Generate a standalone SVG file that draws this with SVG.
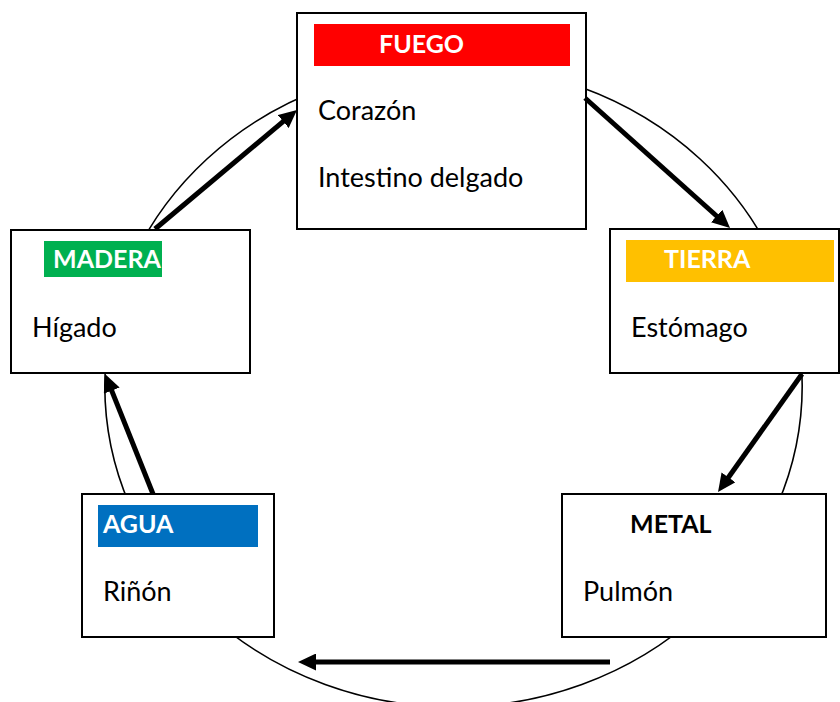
<svg xmlns="http://www.w3.org/2000/svg" width="840" height="702" viewBox="0 0 840 702">
<style>
.box{fill:#fff;stroke:#000;stroke-width:2}
.t{font-family:Lato,"Open Sans","Liberation Sans",sans-serif;font-size:27px;fill:#000}
.h{font-family:Lato,"Open Sans","Liberation Sans",sans-serif;font-size:25px;font-weight:bold;fill:#fff}
.con{stroke:#000;stroke-width:5;fill:none;marker-end:url(#ah)}
</style>
<defs>
<marker id="ah" markerUnits="userSpaceOnUse" viewBox="0 0 18 17" refX="6" refY="8.5" markerWidth="18" markerHeight="17" orient="auto">
<path d="M0,0 L18,8.5 L0,17 z" fill="#000"/>
</marker>
</defs>
<rect width="840" height="702" fill="#fff"/>
<ellipse cx="453.5" cy="386" rx="348.7" ry="321" fill="none" stroke="#000" stroke-width="1.6"/>
<g id="fuego">
<rect class="box" x="297" y="13" width="289" height="216"/>
<rect x="314" y="24" width="256" height="42" fill="#FF0000"/>
<text class="h" x="379" y="53">FUEGO</text>
<text class="t" x="318" y="120">Corazón</text>
<text class="t" x="318" y="187">Intestino delgado</text>
</g>
<g id="madera">
<rect class="box" x="11" y="230" width="239" height="143"/>
<rect x="44" y="241" width="118" height="36" fill="#00B050"/>
<text class="h" x="53" y="268">MADERA</text>
<text class="t" x="32" y="337">Hígado</text>
</g>
<g id="tierra">
<rect class="box" x="610" y="229" width="229" height="144"/>
<rect x="626" y="240" width="208" height="42" fill="#FFC000"/>
<text class="h" x="664" y="268">TIERRA</text>
<text class="t" x="631" y="337">Estómago</text>
</g>
<g id="agua">
<rect class="box" x="82" y="494" width="192" height="143"/>
<rect x="98" y="505" width="160" height="42" fill="#0070C0"/>
<text class="h" x="103" y="533">AGUA</text>
<text class="t" x="103" y="601">Riñón</text>
</g>
<g id="metal">
<rect class="box" x="562" y="494" width="264" height="143"/>
<text class="h" x="630" y="533" style="fill:#000">METAL</text>
<text class="t" x="583" y="601">Pulmón</text>
</g>
<g id="connectors">
<line class="con" x1="155" y1="229" x2="287.8" y2="117.7"/>
<line class="con" x1="585" y1="98" x2="721.1" y2="220"/>
<line class="con" x1="802" y1="374" x2="725" y2="482.2"/>
<line class="con" x1="610" y1="662" x2="310" y2="662"/>
<line class="con" x1="153" y1="494" x2="109.5" y2="385.1"/>
</g>
</svg>
